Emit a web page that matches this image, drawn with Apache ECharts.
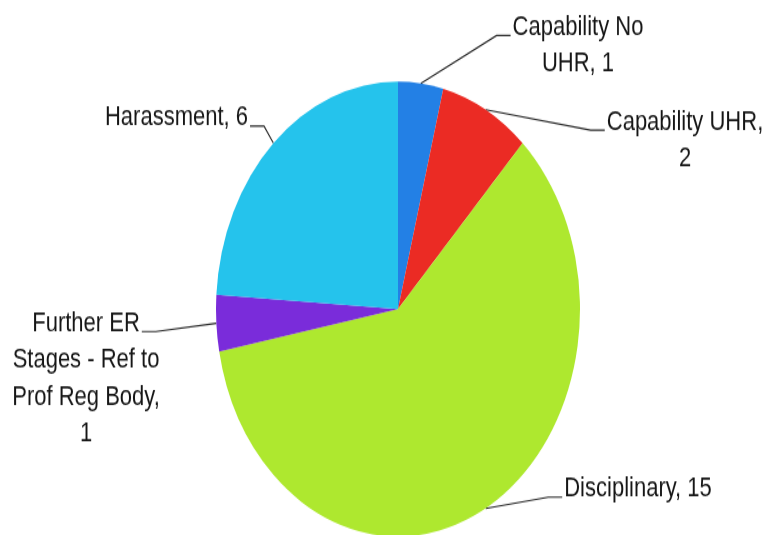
<!DOCTYPE html>
<html>
<head>
<meta charset="utf-8">
<script src="https://cdn.jsdelivr.net/npm/echarts@6/dist/echarts.min.js"></script>
<style>
  html, body { margin: 0; padding: 0; background: #ffffff; overflow: hidden; }
  #wrap { width: 764px; height: 535px; overflow: hidden; }
  /* the chart is laid out flat and stretched vertically into an oval */
  #chart { width: 764px; height: 428px; transform: scaleY(1.25); transform-origin: 0 0; }
</style>
</head>
<body>
<div id="wrap"><div id="chart"></div></div>
<script>
// Case types and counts
const categories = [
  'Capability No UHR',
  'Capability UHR',
  'Disciplinary',
  'Further ER Stages - Ref to Prof Reg Body',
  'Harassment'
];
const caseCounts = [1, 2, 15, 1, 6];
const sliceColors = ['#2380E5', '#EB2B24', '#AEE82F', '#7A2CDA', '#25C3EC'];

// Layout (flat, unstretched pixels)
const PIE_CENTER = [398, 247.2];
const PIE_RADIUS = 182;
const FONT_SIZE = 22;
const FONT_FAMILY = 'Liberation Sans';
const LINE_H = 29.5;
const WRAP_WIDTH = 165;
// label block centre x, first-line centre y
const labelAnchors = [
  [578, 21.9],
  [685, 97.6],
  [638, 391.2],
  [86, 258.7],
  [176.5, 94.4]
];

const ctx = document.createElement('canvas').getContext('2d');
ctx.font = FONT_SIZE + 'px "' + FONT_FAMILY + '"';
const measure = (t) => ctx.measureText(t).width;

function wrapText(text, maxW) {
  const words = text.split(' ');
  const lines = [];
  let cur = '';
  for (const w of words) {
    const t = cur ? cur + ' ' + w : w;
    if (cur && measure(t) > maxW) { lines.push(cur); cur = w; }
    else cur = t;
  }
  lines.push(cur);
  return lines;
}

const wrapped = categories.map((c, i) => wrapText(c + ', ' + caseCounts[i], WRAP_WIDTH));

const chart = echarts.init(document.getElementById('chart'), null, { renderer: 'canvas' });
chart.setOption({
  animation: false,
  backgroundColor: '#ffffff',
  series: [{
    type: 'pie',
    center: PIE_CENTER,
    radius: PIE_RADIUS,
    startAngle: 90,
    clockwise: true,
    avoidLabelOverlap: false,
    data: categories.map((name, i) => ({
      name: name,
      value: caseCounts[i],
      itemStyle: { color: sliceColors[i] }
    })),
    itemStyle: { borderWidth: 0 },
    emphasis: { disabled: true },
    label: {
      show: true,
      position: 'outside',
      formatter: (p) => wrapped[p.dataIndex].join('\n'),
      color: '#161616',
      fontSize: FONT_SIZE,
      fontFamily: FONT_FAMILY,
      lineHeight: LINE_H
    },
    labelLine: {
      show: true,
      length: 10,
      length2: 10,
      lineStyle: { color: '#262626', width: 1.1 }
    },
    labelLayout: function (params) {
      const i = params.dataIndex;
      const [cx, cy] = labelAnchors[i];
      const w1 = measure(wrapped[i][0]);
      const onRight = cx > PIE_CENTER[0];
      const edge = params.labelLinePoints ? params.labelLinePoints[0] : PIE_CENTER;
      const endX = onRight ? cx - w1 / 2 - 2 : cx + w1 / 2 + 2;
      const endY = cy + 6.5;
      const elbowX = onRight ? endX - 14 : endX + 14;
      return {
        x: cx,
        y: cy - LINE_H / 2,
        align: 'center',
        verticalAlign: 'top',
        labelLinePoints: [edge, [elbowX, endY], [endX, endY]]
      };
    }
  }]
});
</script>
</body>
</html>
